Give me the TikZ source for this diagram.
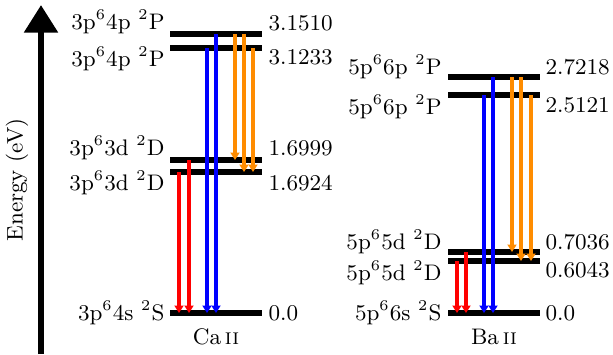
\documentclass[tikz,border=0pt]{standalone}
\usepackage{amsmath}
\usepackage{xcolor}
\usetikzlibrary{arrows.meta}
\definecolor{trorange}{RGB}{255,140,0}

\begin{document}
\begin{tikzpicture}[x=0.4pt,y=-0.4pt]
\tikzstyle{every node}+=[inner sep=0pt,font=\small]
\tikzstyle{level}=[fill=black,minimum width=36.8pt,minimum height=2.2pt]
\tikzstyle{trans}=[line width=1.4pt,-{Triangle[length=3pt,width=3.6pt]}]
\useasboundingbox (0,0) rectangle (613,354);
% energy axis
\draw [line width=2.6pt,-{Triangle[length=11pt,width=13pt]}] (41,354) -- (41,5);
\node [rotate=90] (elab) at (17,180) {Energy (eV)};
% Ca II levels
\node [level] (caP3) at (216,34) {};
\node [level] (caP1) at (216,48) {};
\node [level] (caD5) at (216,160) {};
\node [level] (caD3) at (216,172) {};
\node [level] (caS) at (216,313) {};
\node [anchor=east] (caP3n) at (165,22) {3p$^6$4p $^2$P};
\node [anchor=east] (caP1n) at (165,59) {3p$^6$4p $^2$P};
\node [anchor=east] (caD5n) at (165,148) {3p$^6$3d $^2$D};
\node [anchor=east] (caD3n) at (165,183) {3p$^6$3d $^2$D};
\node [anchor=east] (caSn) at (165,313) {3p$^6$4s $^2$S};
\node [anchor=west] (caP3e) at (268,23) {3.1510};
\node [anchor=west] (caP1e) at (268,57) {3.1233};
\node [anchor=west] (caD5e) at (268,148) {1.6999};
\node [anchor=west] (caD3e) at (268,183) {1.6924};
\node [anchor=west] (caSe) at (268,313) {0.0};
\node (ca) at (216,337) {Ca\,\textsc{ii}};
\draw [trans,red] (179,0 |- caD3) -- (179,0 |- caS);
\draw [trans,red] (189,0 |- caD5) -- (189,0 |- caS);
\draw [trans,blue] (207,0 |- caP1) -- (207,0 |- caS);
\draw [trans,blue] (216,0 |- caP3) -- (216,0 |- caS);
\draw [trans,trorange] (235,0 |- caP3) -- (235,0 |- caD5);
\draw [trans,trorange] (244,0 |- caP3) -- (244,0 |- caD3);
\draw [trans,trorange] (253,0 |- caP1) -- (253,0 |- caD3);
% Ba II levels
\node [level] (baP3) at (494,77) {};
\node [level] (baP1) at (494,95) {};
\node [level] (baD5) at (494,252) {};
\node [level] (baD3) at (494,261) {};
\node [level] (baS) at (494,313) {};
\node [anchor=east] (baP3n) at (442,67) {5p$^6$6p $^2$P};
\node [anchor=east] (baP1n) at (442,107) {5p$^6$6p $^2$P};
\node [anchor=east] (baD5n) at (442,242) {5p$^6$5d $^2$D};
\node [anchor=east] (baD3n) at (442,273) {5p$^6$5d $^2$D};
\node [anchor=east] (baSn) at (442,313) {5p$^6$6s $^2$S};
\node [anchor=west] (baP3e) at (545,67) {2.7218};
\node [anchor=west] (baP1e) at (545,105) {2.5121};
\node [anchor=west] (baD5e) at (545,242) {0.7036};
\node [anchor=west] (baD3e) at (545,270) {0.6043};
\node [anchor=west] (baSe) at (545,313) {0.0};
\node (ba) at (494,337) {Ba\,\textsc{ii}};
\draw [trans,red] (457,0 |- baD3) -- (457,0 |- baS);
\draw [trans,red] (466,0 |- baD5) -- (466,0 |- baS);
\draw [trans,blue] (484,0 |- baP1) -- (484,0 |- baS);
\draw [trans,blue] (493,0 |- baP3) -- (493,0 |- baS);
\draw [trans,trorange] (512,0 |- baP3) -- (512,0 |- baD5);
\draw [trans,trorange] (521,0 |- baP3) -- (521,0 |- baD3);
\draw [trans,trorange] (531,0 |- baP1) -- (531,0 |- baD3);
\end{tikzpicture}
\end{document}
